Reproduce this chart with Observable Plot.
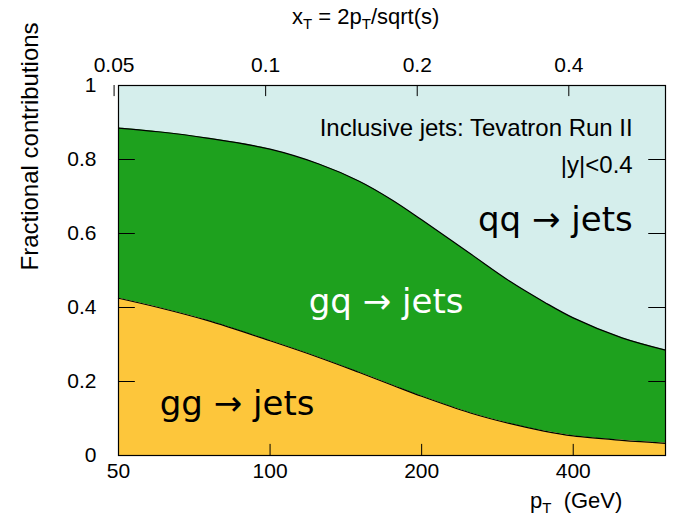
<!DOCTYPE html>
<html><head>
<script src="https://cdn.jsdelivr.net/npm/d3@7"></script>
<script src="https://cdn.jsdelivr.net/npm/@observablehq/plot@0.6"></script>
<style>
body{margin:0;background:#fff;font-family:"Liberation Sans",Arial,sans-serif;}
#chart{position:relative;width:679px;height:523px;}
.lab{position:absolute;font-size:22px;color:#000;white-space:nowrap;}
.lab sub{font-size:15px;vertical-align:-5px;line-height:0;}
</style>
</head><body>
<div id="chart">
  <div class="lab" style="left:292px;top:4px;">x<sub>T</sub> = 2p<sub>T</sub>/sqrt(s)</div>
  <div class="lab" style="left:530px;top:488px;">p<sub>T</sub>&nbsp; (GeV)</div>
</div>
<script>
const pt = [50, 60, 75, 100, 125, 150, 175, 200, 250, 300, 350, 400, 500, 610];
const ggFrac = [0.425, 0.4, 0.365, 0.31, 0.265, 0.225, 0.19, 0.16, 0.115, 0.086, 0.066, 0.053, 0.041, 0.033];
const ggPlusGq = [0.885, 0.875, 0.858, 0.828, 0.788, 0.742, 0.69, 0.637, 0.545, 0.47, 0.415, 0.372, 0.318, 0.285];
const xtTicks = [0.05, 0.1, 0.2, 0.4];
const ptTicks = [50, 100, 200, 400];
const yTicks = [0, 0.2, 0.4, 0.6, 0.8, 1];
const halfSqrtS = 980;

const rows = pt.map((p, i) => ({pt: p, gg: ggFrac[i], top: ggPlusGq[i]}));
const font = "Liberation Sans, Arial, sans-serif";
const curve = "catmull-rom";

const chart = Plot.plot({
  width: 679,
  height: 523,
  marginLeft: 118,
  marginRight: 14,
  marginTop: 85,
  marginBottom: 68,
  style: {fontFamily: font, fontSize: "20px", background: "white"},
  x: {type: "log", domain: [50, 610]},
  y: {domain: [0, 1]},
  marks: [
    Plot.areaY(rows, {x: "pt", y1: "top", y2: 1, fill: "#d5eeec", curve}),
    Plot.areaY(rows, {x: "pt", y1: "gg", y2: "top", fill: "#1ea11e", curve}),
    Plot.areaY(rows, {x: "pt", y1: 0, y2: "gg", fill: "#fdc63b", curve}),
    Plot.lineY(rows, {x: "pt", y: "top", curve, stroke: "black", strokeWidth: 1.2}),
    Plot.lineY(rows, {x: "pt", y: "gg", curve, stroke: "black", strokeWidth: 1.2}),
    Plot.ruleX(ptTicks, {y1: 0, y2: 0.03, stroke: "black"}),
    Plot.ruleX(xtTicks.map(v => v * halfSqrtS), {y1: 0.97, y2: 1, stroke: "black"}),
    Plot.ruleY(yTicks, {x1: 50, x2: 54, stroke: "black"}),
    Plot.ruleY(yTicks, {x1: 565, x2: 610, stroke: "black"}),
    Plot.axisX(ptTicks, {anchor: "bottom", tickSize: 0, tickPadding: 8, fontSize: 21, label: null}),
    Plot.axisX(xtTicks.map(v => v * halfSqrtS), {anchor: "top", tickSize: 0, tickPadding: 14, fontSize: 21, label: null, tickFormat: d => String(+(d / halfSqrtS).toFixed(2))}),
    Plot.axisY(yTicks, {anchor: "left", tickSize: 0, tickPadding: 22, fontSize: 21, label: null, tickFormat: d => String(d)}),
    Plot.text(["Fractional contributions"], {frameAnchor: "left", dx: -88, rotate: -90, fontSize: 24}),
    Plot.text(["Inclusive jets: Tevatron Run II"], {x: 525, y: 0.885, textAnchor: "end", fontSize: 24}),
    Plot.text(["|y|<0.4"], {x: 525, y: 0.785, textAnchor: "end", fontSize: 24}),
    Plot.text(["qq \u2192 jets"], {x: 525, y: 0.635, textAnchor: "end", fontSize: 34, fontFamily: "DejaVu Sans"}),
    Plot.text(["gq \u2192 jets"], {x: 170, y: 0.415, fontSize: 34, fill: "white", fontFamily: "DejaVu Sans"}),
    Plot.text(["gg \u2192 jets"], {x: 86, y: 0.14, fontSize: 34, fontFamily: "DejaVu Sans"}),
    Plot.frame({stroke: "black", strokeWidth: 1.2})
  ]
});
d3.select("#chart").append(() => chart);
</script>
</body></html>
